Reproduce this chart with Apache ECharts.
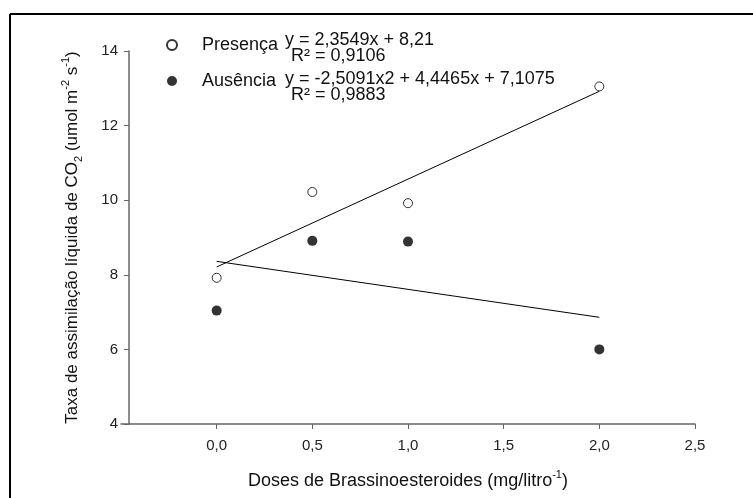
<!DOCTYPE html>
<html>
<head>
<meta charset="utf-8">
<script src="https://cdn.jsdelivr.net/npm/echarts@6/dist/echarts.min.js"></script>
<style>
html,body{margin:0;padding:0;background:#fff;}
#main{width:753px;height:498px;}
</style>
</head>
<body>
<div id="main"></div>
<script type="text/javascript">
// dados
var doses = [0, 0.5, 1.0, 2.0];
var presenca = [7.92, 10.22, 9.92, 13.05];
var ausencia = [7.04, 8.91, 8.89, 6.0];
// linhas de tendência como desenhadas (extremos)
var linhaX = [0, 2.0];
var linhaPresenca = [8.21, 12.92];
var linhaAusencia = [8.36, 6.86];
var xTicks = [0, 0.5, 1.0, 1.5, 2.0, 2.5];
var eqPresenca = ['y = 2,3549x + 8,21', 'R² = 0,9106'];
var eqAusencia = ['y = -2,5091x2 + 4,4465x + 7,1075', 'R² = 0,9883'];

var fonte = '"Liberation Sans", Arial, sans-serif';

function pares(xs, ys) {
    return xs.map(function (x, i) { return [x, ys[i]]; });
}

var chart = echarts.init(document.getElementById('main'));
var option = {
    backgroundColor: '#fff',
    animation: false,
    textStyle: { fontFamily: fonte },
    grid: { left: 121, right: 58, top: 51, bottom: 69 },
    legend: {
        orient: 'vertical',
        left: 161,
        top: 31,
        itemWidth: 10,
        itemHeight: 10,
        itemGap: 18,
        textStyle: { fontSize: 18, color: '#111', fontFamily: fonte, padding: [0, 0, 0, 20] },
        data: ['Presença', 'Ausência']
    },
    xAxis: {
        type: 'value',
        min: -0.5,
        max: 2.5,
        name: 'Doses de Brassinoesteroides (mg/litro{sup|-1})',
        nameLocation: 'middle',
        nameGap: 45,
        nameTextStyle: {
            fontSize: 18, color: '#111', fontFamily: fonte, lineHeight: 24,
            rich: { sup: { fontSize: 11, lineHeight: 11, verticalAlign: 'top', color: '#111', fontFamily: fonte } }
        },
        axisLine: { onZero: false, lineStyle: { color: '#666', width: 1.5 } },
        axisTick: { customValues: xTicks, length: 5, lineStyle: { color: '#666' } },
        axisLabel: {
            customValues: xTicks,
            margin: 14,
            fontSize: 15,
            color: '#222',
            formatter: function (v) { return v.toFixed(1).replace('.', ','); }
        },
        splitLine: { show: false }
    },
    yAxis: {
        type: 'value',
        min: 4,
        max: 14,
        interval: 2,
        offset: -8,
        name: 'Taxa de assimilação líquida de CO{sub|2} (umol m{sup|-2} s{sup|-1})',
        nameLocation: 'middle',
        nameGap: 45,
        nameTextStyle: {
            fontSize: 17, color: '#111', fontFamily: fonte, lineHeight: 24,
            rich: {
                sup: { fontSize: 11, lineHeight: 11, verticalAlign: 'top', color: '#111', fontFamily: fonte },
                sub: { fontSize: 11, lineHeight: 11, verticalAlign: 'bottom', color: '#111', fontFamily: fonte }
            }
        },
        axisLine: { show: true, onZero: false, lineStyle: { color: '#666', width: 1.5 } },
        axisTick: { show: true, length: 5, lineStyle: { color: '#666' } },
        axisLabel: { margin: 11, fontSize: 15, color: '#222' },
        splitLine: { show: false }
    },
    graphic: [
        { type: 'line', shape: { x1: 10, y1: 14, x2: 753, y2: 14 }, style: { stroke: '#000', lineWidth: 2 } },
        { type: 'line', shape: { x1: 10, y1: 14, x2: 10, y2: 498 }, style: { stroke: '#000', lineWidth: 2 } },
        { type: 'text', left: 285, top: 31, style: { text: eqPresenca[0], font: '18px ' + fonte, fill: '#111' } },
        { type: 'text', left: 291, top: 47, style: { text: eqPresenca[1], font: '18px ' + fonte, fill: '#111' } },
        { type: 'text', left: 285, top: 70, style: { text: eqAusencia[0], font: '18px ' + fonte, fill: '#111' } },
        { type: 'text', left: 291, top: 86, style: { text: eqAusencia[1], font: '18px ' + fonte, fill: '#111' } }
    ],
    series: [
        {
            name: 'Presença',
            type: 'scatter',
            symbol: 'circle',
            symbolSize: 9,
            z: 4,
            itemStyle: { color: '#fff', borderColor: '#000', borderWidth: 1 },
            data: pares(doses, presenca)
        },
        {
            name: 'Ausência',
            type: 'scatter',
            symbol: 'circle',
            symbolSize: 10,
            z: 4,
            itemStyle: { color: '#000' },
            data: pares(doses, ausencia)
        },
        {
            name: 'tendência presença',
            type: 'line',
            showSymbol: false,
            silent: true,
            lineStyle: { color: '#000', width: 1 },
            data: pares(linhaX, linhaPresenca)
        },
        {
            name: 'tendência ausência',
            type: 'line',
            showSymbol: false,
            silent: true,
            lineStyle: { color: '#000', width: 1 },
            data: pares(linhaX, linhaAusencia)
        }
    ]
};
chart.setOption(option);
</script>
</body>
</html>
